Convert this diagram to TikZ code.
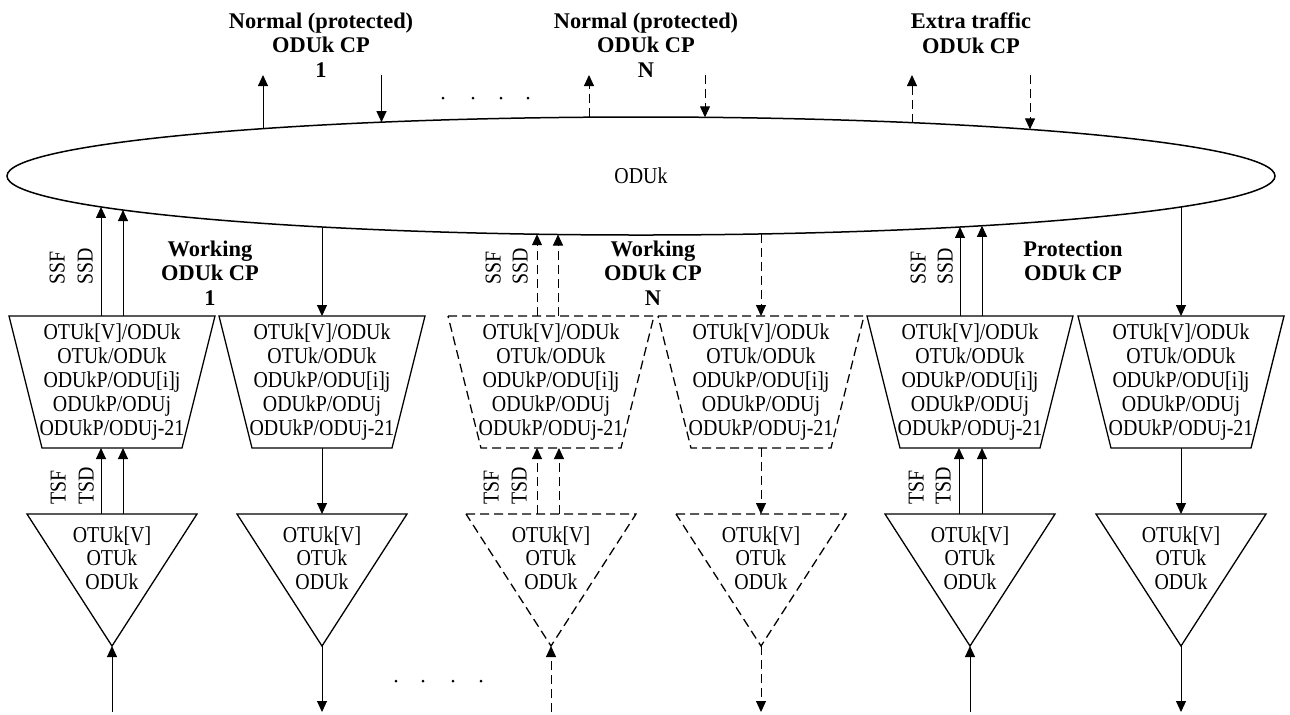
\documentclass[tikz,border=0pt]{standalone}
\usepackage{fontspec}
\setmainfont{Liberation Serif}
\newfontfamily\condfont{Liberation Serif}[FakeStretch=0.876]
\usetikzlibrary{shapes.geometric,arrows.meta,calc}
\begin{document}
\begin{tikzpicture}[x=0.5pt,y=-0.5pt,
  declare function={ey(\t)=59*sqrt(1-((\t-641)/634)^2);},
  shp/.style={line width=0.65pt,line join=miter},
  dsh/.style={dash pattern=on 4.5pt off 2.5pt},
  arr/.style={line width=0.5pt,-{Triangle[length=5.5pt,width=5pt]}},
  trapbox/.style={rectangle,minimum width=103pt,minimum height=66pt,inner sep=0pt,outer sep=0pt},
  reg/.style={inner sep=0pt,align=center,anchor=north,
    font=\condfont\fontsize{11.35pt}{12pt}\selectfont,execute at begin node=\strut},
  regt/.style={inner sep=0pt,align=center,anchor=north,
    font=\condfont\fontsize{11.35pt}{11.7pt}\selectfont,execute at begin node=\strut},
  bld/.style={inner sep=0pt,align=center,anchor=north,
    font=\bfseries\fontsize{11.2pt}{12.25pt}\selectfont,execute at begin node=\strut},
  rot/.style={inner sep=0pt,rotate=90,anchor=base west,
    font=\condfont\fontsize{11.35pt}{12pt}\selectfont},
]
\useasboundingbox (0,0) rectangle (1290,714);

% central ellipse
\node[draw,ellipse,line width=0.75pt,minimum width=634pt,minimum height=59pt,inner sep=0pt,outer sep=0pt,
  font=\condfont\fontsize{11.35pt}{12pt}\selectfont] (E) at (641,176) {ODUk};

% top labels
\node[bld] (N1) at (321,12.5) {Normal (protected)\\ODUk CP\\1};
\node[bld] (NN) at (646,12.5) {Normal (protected)\\ODUk CP\\N};
\node[bld] (EX) at (971,12.5) {Extra traffic\\ODUk CP};
\node[bld] (W1) at (210,240.2) {Working\\ODUk CP\\1};
\node[bld] (WN) at (653,240.2) {Working\\ODUk CP\\N};
\node[bld] (PR) at (1073,240.2) {Protection\\ODUk CP};

% trapezoids and triangles
\foreach \n/\cx/\st in {1/112/solid,2/322/solid,3/551/dsh,4/761/dsh,5/970/solid,6/1181/solid}{
  \node[trapbox] (T\n) at (\cx,382) {};
  \draw[shp,\st] (T\n.north west) -- (T\n.north east) -- ($(T\n.south east)+(-33,0)$)
     -- ($(T\n.south west)+(33,0)$) -- cycle;
  \node[reg] (L\n) at (\cx,323.4) {OTUk[V]/ODUk\\OTUk/ODUk\\ODUkP/ODU[i]j\\ODUkP/ODUj\\ODUkP/ODUj-21};
  \coordinate (V\n) at (\cx,514);
  \coordinate (A\n) at (\cx,646);
  \draw[shp,\st] ($(V\n)+(-85,0)$) -- ($(V\n)+(85,0)$) -- (A\n) -- cycle;
  \node[regt] (R\n) at (\cx,526.1) {OTUk[V]\\OTUk\\ODUk};
}

% points on the ellipse
\coordinate (tA) at (263,{176-ey(263)});
\coordinate (tB) at (381.5,{176-ey(381.5)});
\coordinate (tC) at (589,{176-ey(589)});
\coordinate (tD) at (705,{176-ey(705)});
\coordinate (tE) at (912,{176-ey(912)});
\coordinate (tF) at (1030,{176-ey(1030)});
\coordinate (b1a) at (101,{176+ey(101)});
\coordinate (b1b) at (123,{176+ey(123)});
\coordinate (b2) at (322,{176+ey(322)});
\coordinate (b3a) at (537,{176+ey(537)});
\coordinate (b3b) at (558,{176+ey(558)});
\coordinate (b4) at (761,{176+ey(761)});
\coordinate (b5a) at (960,{176+ey(960)});
\coordinate (b5b) at (982,{176+ey(982)});
\coordinate (b6) at (1181,{176+ey(1181)});

% free ends at the top
\coordinate (uA) at (263,75);
\coordinate (uB) at (381.5,75);
\coordinate (uC) at (589,75);
\coordinate (uD) at (705,75);
\coordinate (uE) at (912,75);
\coordinate (uF) at (1030,75);

% top arrows
\draw[arr] (tA) -- (uA);
\draw[arr] (uB) -- (tB);
\draw[arr,dsh] (tC) -- (uC);
\draw[arr,dsh] (uD) -- (tD);
\draw[arr,dsh] (tE) -- (uE);
\draw[arr,dsh] (uF) -- (tF);

% free ends at the bottom
\foreach \n/\cx in {1/112,2/322,3/551,4/761,5/970,6/1181}{
  \coordinate (F\n) at (\cx,712);
}

% column 1
\draw[arr] ($(T1.north)+(-11,0)$) -- (b1a);
\draw[arr] ($(T1.north)+(11,0)$) -- (b1b);
\draw[arr] ($(V1)+(-11,0)$) -- ($(T1.south)+(-11,0)$);
\draw[arr] ($(V1)+(11,0)$) -- ($(T1.south)+(11,0)$);
\draw[arr] (F1) -- (A1);
% column 2
\draw[arr] (b2) -- (T2.north);
\draw[arr] (T2.south) -- (V2);
\draw[arr] (A2) -- (F2);
% column 3
\draw[arr,dsh] ($(T3.north)+(-14,0)$) -- (b3a);
\draw[arr,dsh] ($(T3.north)+(7,0)$) -- (b3b);
\draw[arr,dsh] ($(V3)+(-14,0)$) -- ($(T3.south)+(-14,0)$);
\draw[arr,dsh] ($(V3)+(8,0)$) -- ($(T3.south)+(8,0)$);
\draw[arr,dsh] (F3) -- (A3);
% column 4
\draw[arr,dsh] (b4) -- (T4.north);
\draw[arr,dsh] (T4.south) -- (V4);
\draw[arr,dsh] (A4) -- (F4);
% column 5
\draw[arr] ($(T5.north)+(-10,0)$) -- (b5a);
\draw[arr] ($(T5.north)+(12,0)$) -- (b5b);
\draw[arr] ($(V5)+(-11,0)$) -- ($(T5.south)+(-11,0)$);
\draw[arr] ($(V5)+(12,0)$) -- ($(T5.south)+(12,0)$);
\draw[arr] (F5) -- (A5);
% column 6
\draw[arr] (b6) -- (T6.north);
\draw[arr] (T6.south) -- (V6);
\draw[arr] (A6) -- (F6);

% signal labels
\node[rot] (s1f) at (64.5,285) {SSF};
\node[rot] (s1d) at (92.5,285) {SSD};
\node[rot] (s3f) at (500.5,285) {SSF};
\node[rot] (s3d) at (527.5,285) {SSD};
\node[rot] (s5f) at (925.5,285) {SSF};
\node[rot] (s5d) at (952.5,285) {SSD};
\node[rot] (t1f) at (65.5,505) {TSF};
\node[rot] (t1d) at (93.5,505) {TSD};
\node[rot] (t3f) at (498.5,505) {TSF};
\node[rot] (t3d) at (526.5,505) {TSD};
\node[rot] (t5f) at (923.5,505) {TSF};
\node[rot] (t5d) at (950.5,505) {TSD};

% dots
\foreach \x in {443,473,501,528} \fill (\x,98) circle (1.5);
\foreach \x in {396,423,453,481} \fill (\x,681) circle (1.5);
\end{tikzpicture}
\end{document}
